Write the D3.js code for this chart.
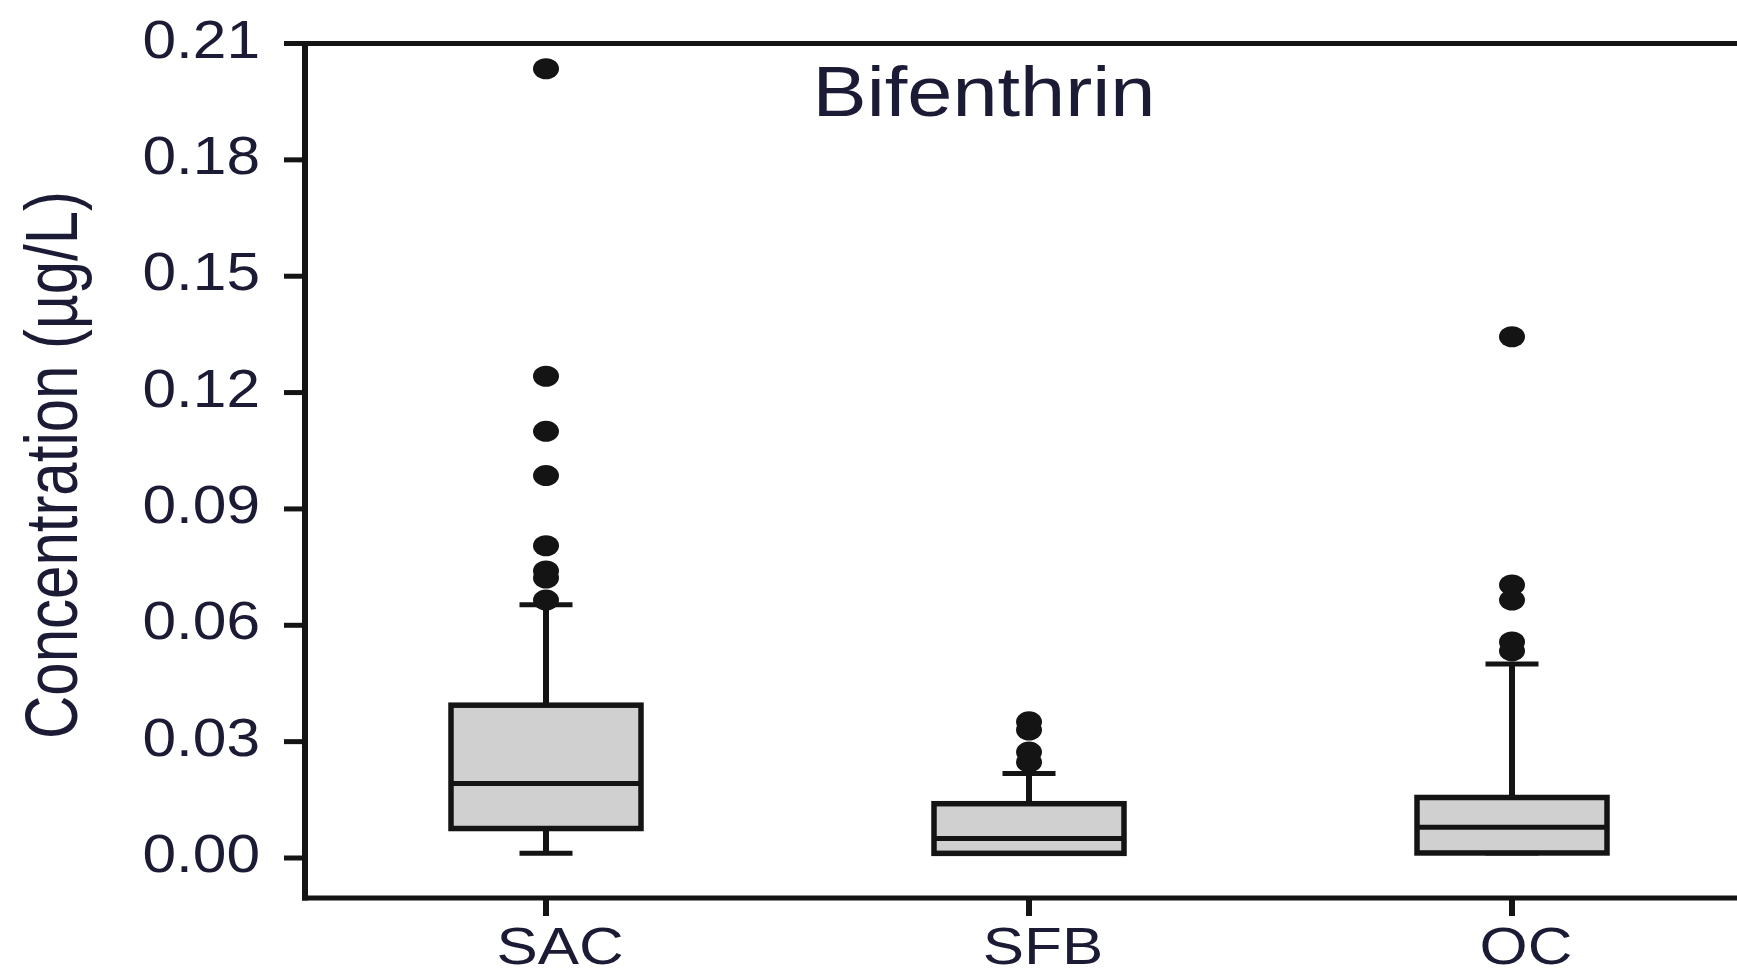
<!DOCTYPE html>
<html>
<head>
<meta charset="utf-8">
<script src="https://cdn.jsdelivr.net/npm/d3@7"></script>
<style>
  html, body { margin: 0; padding: 0; background: #fff; }
  svg { display: block; }
  text { font-family: "Liberation Sans", Arial, Helvetica, sans-serif; fill: #1b1b35; }
</style>
</head>
<body>
<svg id="chart" width="1737" height="976"></svg>
<script>
// Bifenthrin concentrations by region (µg/L)
const categories = ["SAC", "SFB", "OC"];
const whiskerLow  = [0.0012, 0.0012, 0.0013];
const q1          = [0.0076, 0.0012, 0.0013];
const medians     = [0.0192, 0.0050, 0.0079];
const q3          = [0.0394, 0.0140, 0.0156];
const whiskerHigh = [0.0653, 0.0218, 0.0500];
const outliersSAC = [0.2035, 0.1242, 0.1100, 0.0986, 0.0805, 0.0740, 0.0722, 0.0665];
const outliersSFB = [0.0351, 0.0330, 0.0273, 0.0247];
const outliersOC  = [0.1344, 0.0704, 0.0665, 0.0557, 0.0534];
const yTicks = [0, 0.03, 0.06, 0.09, 0.12, 0.15, 0.18, 0.21];
const chartTitle = "Bifenthrin";
const yLabel = "Concentration (µg/L)";

const outliers = [outliersSAC, outliersSFB, outliersOC];
const stats = categories.map((c, i) => ({
  cat: c, lo: whiskerLow[i], q1: q1[i], med: medians[i], q3: q3[i], hi: whiskerHigh[i], out: outliers[i]
}));

const W = 1737, H = 976;
const frameLeft = 305, frameTop = 43.5, frameBottom = 898, frameRight = W;
const ink = "#141414";
const stretch = 1.16; // horizontal glyph widening

const svg = d3.select("#chart");

const x = d3.scalePoint().domain(categories).range([546, 1512]);
const y = d3.scaleLinear().domain([0, 0.21]).range([858, 43.5]);

const boxW = 190, capW = 53;

// Frame: left axis, top and bottom rules (open on the right)
svg.append("line").attr("x1", frameLeft).attr("x2", frameRight).attr("y1", frameTop).attr("y2", frameTop)
  .attr("stroke", ink).attr("stroke-width", 5);
svg.append("line").attr("x1", frameLeft - 3).attr("x2", frameRight).attr("y1", frameBottom).attr("y2", frameBottom)
  .attr("stroke", ink).attr("stroke-width", 5);
svg.append("line").attr("x1", frameLeft).attr("x2", frameLeft).attr("y1", frameTop - 2.5).attr("y2", frameBottom + 2.5)
  .attr("stroke", ink).attr("stroke-width", 6);

// Y axis ticks and labels
const yAxis = svg.append("g");
yAxis.selectAll("line.tick").data(yTicks).join("line")
  .attr("class", "tick")
  .attr("x1", 284).attr("x2", frameLeft)
  .attr("y1", d => y(d)).attr("y2", d => y(d))
  .attr("stroke", ink).attr("stroke-width", 5);
yAxis.selectAll("text").data(yTicks).join("text")
  .attr("transform", d => `translate(260,${y(d) + 14}) scale(1.14,1)`)
  .attr("text-anchor", "end")
  .attr("font-size", 53)
  .text(d3.format(".2f"));

// X axis ticks and labels
const xAxis = svg.append("g");
xAxis.selectAll("line").data(categories).join("line")
  .attr("x1", d => x(d)).attr("x2", d => x(d))
  .attr("y1", frameBottom).attr("y2", 916)
  .attr("stroke", ink).attr("stroke-width", 6);
xAxis.selectAll("text").data(categories).join("text")
  .attr("transform", d => `translate(${x(d) + 14},964) scale(1.19,1)`)
  .attr("text-anchor", "middle")
  .attr("font-size", 52)
  .text(d => d);

// Y axis title
svg.append("text")
  .attr("transform", `translate(77,465) scale(1.22,1) rotate(-90)`)
  .attr("text-anchor", "middle")
  .attr("font-size", 60)
  .text(yLabel);

// Chart title
svg.append("text")
  .attr("transform", `translate(984,116) scale(${stretch},1)`)
  .attr("text-anchor", "middle")
  .attr("font-size", 70)
  .text(chartTitle);

// Box plots
const boxes = svg.append("g").selectAll("g").data(stats).join("g");

// whiskers
boxes.append("line")
  .attr("x1", d => x(d.cat)).attr("x2", d => x(d.cat))
  .attr("y1", d => y(d.q3)).attr("y2", d => y(d.hi))
  .attr("stroke", ink).attr("stroke-width", 6);
boxes.append("line")
  .attr("x1", d => x(d.cat)).attr("x2", d => x(d.cat))
  .attr("y1", d => y(d.q1)).attr("y2", d => y(d.lo))
  .attr("stroke", ink).attr("stroke-width", 6);
// caps
boxes.append("line")
  .attr("x1", d => x(d.cat) - capW / 2).attr("x2", d => x(d.cat) + capW / 2)
  .attr("y1", d => y(d.hi)).attr("y2", d => y(d.hi))
  .attr("stroke", ink).attr("stroke-width", 5);
boxes.append("line")
  .attr("x1", d => x(d.cat) - capW / 2).attr("x2", d => x(d.cat) + capW / 2)
  .attr("y1", d => y(d.lo)).attr("y2", d => y(d.lo))
  .attr("stroke", ink).attr("stroke-width", 5);
// box
boxes.append("rect")
  .attr("x", d => x(d.cat) - boxW / 2)
  .attr("width", boxW)
  .attr("y", d => y(d.q3))
  .attr("height", d => y(d.q1) - y(d.q3))
  .attr("fill", "#d0d0d0")
  .attr("stroke", ink).attr("stroke-width", 5.5);
// median
boxes.append("line")
  .attr("x1", d => x(d.cat) - boxW / 2).attr("x2", d => x(d.cat) + boxW / 2)
  .attr("y1", d => y(d.med)).attr("y2", d => y(d.med))
  .attr("stroke", ink).attr("stroke-width", 5);
// outliers
boxes.selectAll("ellipse").data(d => d.out.map(v => ({ cat: d.cat, v }))).join("ellipse")
  .attr("cx", d => x(d.cat))
  .attr("cy", d => y(d.v))
  .attr("rx", 13).attr("ry", 10.5)
  .attr("fill", ink);
</script>
</body>
</html>
